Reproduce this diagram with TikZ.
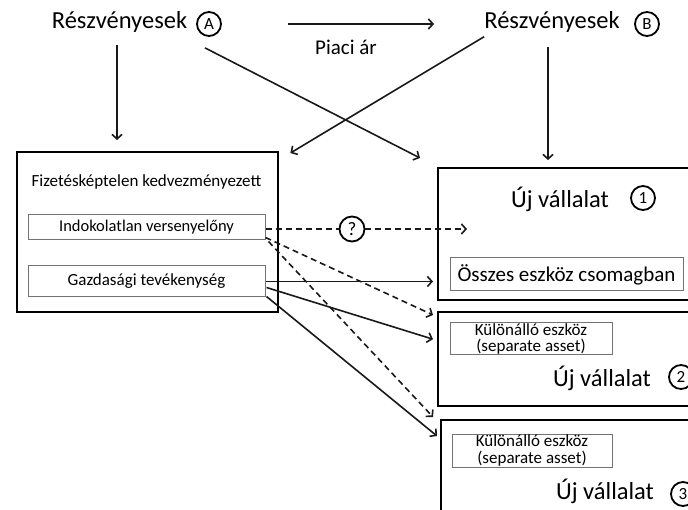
\documentclass[tikz,border=0pt]{standalone}
\usepackage{fontspec}
\setmainfont{Carlito}
\usetikzlibrary{arrows.meta,calc}
\begin{document}
\begin{tikzpicture}[x=1pt,y=-1pt,
  big/.style={font=\fontsize{24.5}{27}\selectfont, inner sep=0pt, text=black},
  mid/.style={font=\fontsize{17}{20}\selectfont, text=black},
  outerbox/.style={draw=black, line width=2.4pt, anchor=north west, inner sep=0pt},
  innerbox/.style={draw=black!55, line width=1pt, inner sep=0pt},
  badge/.style={circle, draw=black, line width=1.8pt, inner sep=0pt, minimum size=24pt, font=\fontsize{17}{17}\selectfont},
  arr/.style={line width=1.6pt, draw=black!90, -{Straight Barb[length=4.5pt,width=10pt]}},
  darr/.style={arr, dash pattern=on 6pt off 4pt},
  dline/.style={line width=1.6pt, draw=black!90, dash pattern=on 6pt off 4pt}]
\useasboundingbox (0,0) rectangle (688,510);
\begin{scope}
\clip (0,0) rectangle (688,510);
% top shareholders
\node[big] (shA) at (119.5,22) {Részvényesek};
\node[badge] (cA) at (209,24) {A};
\node[big] (shB) at (552,22) {Részvényesek};
\node[badge] (cB) at (647,24) {B};
\node[big, font=\fontsize{21}{24}\selectfont] (piaci) at (346,47) {Piaci ár};
\coordinate (pa1) at (288,24);
\coordinate (pa2) at (434,24);
% left box
\node[outerbox, minimum width=261pt, minimum height=160pt] (leftbox) at (16,151) {};
\node[mid] (fiz) at (146.5,182) {Fizetésképtelen kedvezményezett};
\node[innerbox, mid, minimum width=237pt, minimum height=25pt, font=\fontsize{16.5}{20}\selectfont] (ind) at (146.5,227.5) {Indokolatlan versenyelőny};
\node[innerbox, mid, minimum width=237pt, minimum height=31pt] (gaz) at (146.5,281.5) {Gazdasági tevékenység};
% right boxes
\node[outerbox, minimum width=270pt, minimum height=132pt] (box1) at (437,167) {};
\node[big] (uj1) at (560,199) {Új vállalat};
\node[badge] (c1) at (643,198) {1};
\node[innerbox, minimum width=233pt, minimum height=33pt, font=\fontsize{21}{24}\selectfont, text=black] (oss) at (566.5,274.5) {Összes eszköz csomagban};
\node[outerbox, minimum width=270pt, minimum height=94pt] (box2) at (437,311) {};
\node[innerbox, minimum width=162pt, minimum height=32pt, align=center, font=\fontsize{17}{16.5}\selectfont, text=black] (kul2) at (531,339) {Különálló eszköz\\(separate asset)};
\node[big] (uj2) at (602,378) {Új vállalat};
\node[badge] (c2) at (681,377) {2};
\node[outerbox, minimum width=270pt, minimum height=120pt] (box3) at (440,419) {};
\node[innerbox, minimum width=160pt, minimum height=33pt, align=center, font=\fontsize{17}{16.5}\selectfont, text=black] (kul3) at (532,450.5) {Különálló eszköz\\(separate asset)};
\node[big] (uj3) at (605,491) {Új vállalat};
\node[badge] (c3) at (683,494) {3};
% question
\node[badge, minimum size=25pt, font=\fontsize{19}{19}\selectfont] (q) at (352,229) {?};
% connectors
\draw[arr] (pa1) -- (pa2);
\draw[arr] ($(shA.south)+(-2.5,12)$) -- ($(shA.south |- leftbox.north)+(-2.5,-11)$);
\draw[arr] ($(cA.south)+(-4,11)$) -- ($(box1.north west)+(-17,-9)$);
\draw[arr] ($(shB.south west)+(0,4)$) -- ($(leftbox.north east)+(11,2)$);
\draw[arr] ($(shB.south)+(-4,14)$) -- ($(shB.south |- box1.north)+(-4,-7)$);
\draw[dline] ($(ind.east)+(0,1.5)$) -- (q.west);
\draw[darr] (q.east) -- ($(ind.east -| box1.west)+(30,1.5)$);
\draw[arr] (gaz.east) -- ($(gaz.east -| box1.west)+(-4,0)$);
\draw[arr] ($(gaz.east)+(1,6)$) -- ($(box2.west)+(-4,-20)$);
\draw[arr] ($(gaz.south east)+(1,-1)$) -- ($(box3.north west)+(-3,17)$);
\draw[darr] ($(ind.south east)+(0,-3)$) -- ($(box2.north west)+(-4,4)$);
\draw[darr] ($(ind.south east)+(3,1)$) -- ($(box3.north west)+(-7,-2)$);
\end{scope}
\end{tikzpicture}
\end{document}
